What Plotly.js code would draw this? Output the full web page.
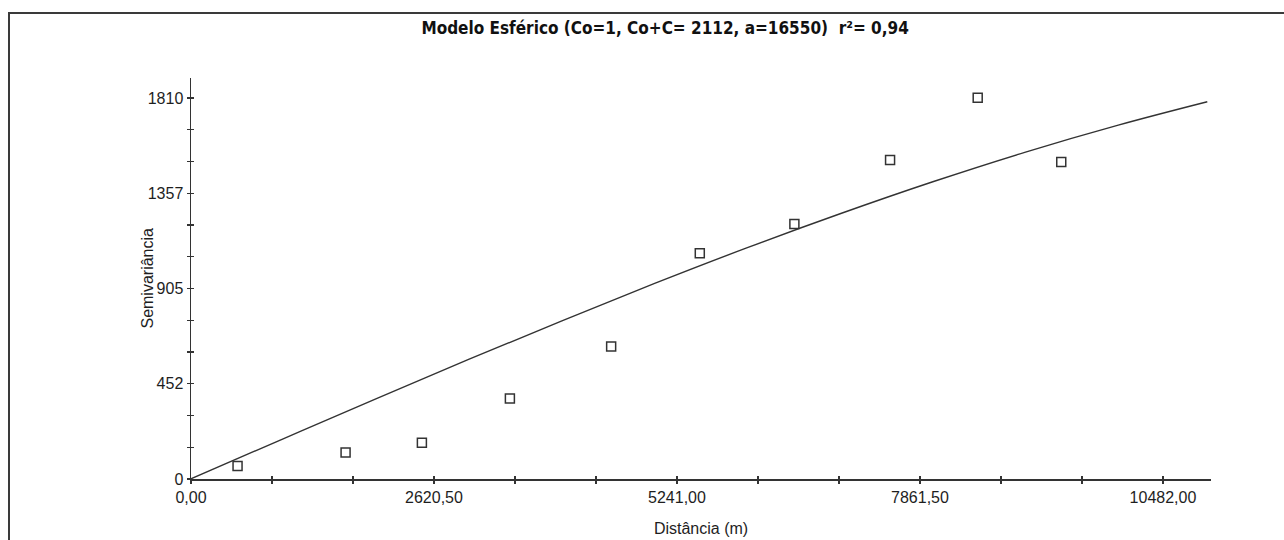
<!DOCTYPE html>
<html>
<head>
<meta charset="utf-8">
<script src="https://cdn.plot.ly/plotly-3.0.1.min.js"></script>
<style>
  html, body { margin: 0; padding: 0; background: #fff; overflow: hidden; }
  #wrap { position: relative; width: 1284px; height: 540px; }
  #chart { width: 1284px; height: 540px; }
  #frame { position: absolute; left: 8px; top: 12px; width: 1300px; height: 600px;
           border-top: 2px solid #3a3a3a; border-left: 2px solid #3a3a3a; pointer-events: none; }
</style>
</head>
<body>
<div id="wrap">
  <div id="chart"></div>
  <div id="frame"></div>
</div>
<script>
const distances = [502, 1667, 2490, 3439, 4531, 5487, 6507, 7539, 8484, 9385];
const semivariances = [62, 126, 172, 383, 630, 1072, 1211, 1515, 1811, 1506];

// Fitted spherical model curve
const modelDistances = [0, 1000, 2000, 3000, 4000, 5000, 6000, 7000, 8000, 9000, 10000, 10960];
const modelValues = [1, 192, 382, 569, 751, 929, 1099, 1260, 1412, 1553, 1681, 1792];

// Axis ticks
const xTickVals = [0, 873.5, 1747, 2620.5, 3494, 4367.5, 5241, 6114.5, 6988, 7861.5, 8735, 9608.5, 10482];
const xTickText = ["0,00", "", "", "2620,50", "", "", "5241,00", "", "", "7861,50", "", "", "10482,00"];
const yTickVals = [0, 150.83, 301.67, 452.5, 603.33, 754.17, 905, 1055.83, 1206.67, 1357.5, 1508.33, 1659.17, 1810];
const yTickText = ["0", "", "", "452", "", "", "905", "", "", "1357", "", "", "1810"];

const titleText = "Modelo Esférico (Co=1, Co+C= 2112, a=16550)  r²= 0,94";
const xTitle = "Distância (m)";
const yTitle = "Semivariância";

const ink = "#333333";
const tickFont = { family: "Liberation Sans, Arial, sans-serif", size: 16, color: "#1e1e1e" };

const traces = [
  {
    x: modelDistances, y: modelValues, type: "scatter", mode: "lines",
    line: { color: ink, width: 1.4, shape: "spline" },
    xaxis: "x2", yaxis: "y2", hoverinfo: "skip", showlegend: false
  },
  {
    x: distances, y: semivariances, type: "scatter", mode: "markers",
    marker: { symbol: "square-open", size: 9, color: ink, line: { width: 1.5, color: ink } },
    showlegend: false
  }
];

const xRange = [0, 11000];
const yRange = [0, 1905];

const layout = {
  width: 1284, height: 540,
  margin: { l: 191, r: 73, t: 78, b: 61 },
  paper_bgcolor: "#fff", plot_bgcolor: "#fff",
  showlegend: false,
  title: {
    text: "<b>" + titleText + "</b>",
    font: { family: "DejaVu Sans Condensed, Liberation Sans Narrow, Arial Narrow, sans-serif", size: 17, color: "#111" },
    x: 0.518, xref: "container", xanchor: "center",
    y: 0.948, yref: "container", yanchor: "middle"
  },
  xaxis: {
    range: xRange, showgrid: false, zeroline: false,
    showline: true, linecolor: ink, linewidth: 1.5,
    tickmode: "array", tickvals: xTickVals, ticktext: xTickText,
    ticks: "outside", ticklen: 3, tickwidth: 1.2, tickcolor: ink,
    tickfont: tickFont,
    title: { text: xTitle, font: tickFont, standoff: 18 }
  },
  yaxis: {
    range: yRange, showgrid: false, zeroline: false,
    showline: true, linecolor: ink, linewidth: 1.5,
    tickmode: "array", tickvals: yTickVals, ticktext: yTickText,
    ticks: "outside", ticklen: 3, tickwidth: 1.2, tickcolor: ink,
    tickfont: tickFont,
    title: { text: "" }
  },
  xaxis2: {
    overlaying: "x", range: xRange, showgrid: false, zeroline: false, showline: false,
    tickmode: "array", tickvals: xTickVals, showticklabels: false,
    ticks: "inside", ticklen: 3, tickwidth: 1.2, tickcolor: ink, side: "bottom"
  },
  yaxis2: {
    overlaying: "y", range: yRange, showgrid: false, zeroline: false, showline: false,
    tickmode: "array", tickvals: yTickVals, showticklabels: false,
    ticks: "inside", ticklen: 3, tickwidth: 1.2, tickcolor: ink, side: "left"
  },
  annotations: [
    {
      text: yTitle, textangle: -90, showarrow: false,
      xref: "paper", yref: "paper", x: -0.0431, y: 0.5,
      xanchor: "center", yanchor: "middle", font: tickFont
    }
  ]
};

Plotly.newPlot("chart", traces, layout, { staticPlot: true, displayModeBar: false });
</script>
</body>
</html>
